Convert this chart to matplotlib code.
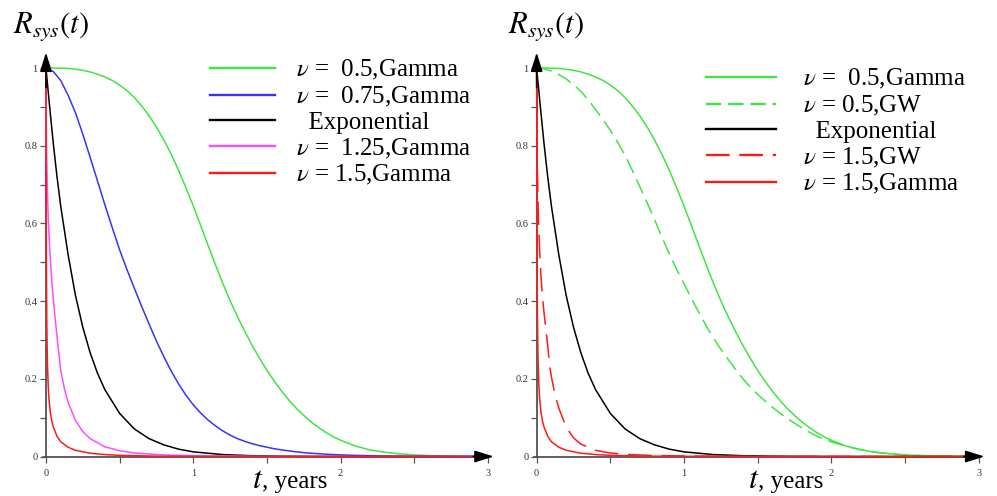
import matplotlib

matplotlib.use("Agg")
import matplotlib.pyplot as plt

plt.rcParams["font.family"] = "serif"
plt.rcParams["font.serif"] = ["Liberation Serif", "DejaVu Serif"]
plt.rcParams["mathtext.fontset"] = "stix"
plt.rcParams["lines.scale_dashes"] = False

# values
t_grid = [0.0, 0.05, 0.1, 0.15, 0.2, 0.25, 0.3, 0.35, 0.4, 0.45, 0.5,
          0.55, 0.6, 0.65, 0.7, 0.75, 0.8, 0.85, 0.9, 0.95, 1.0,
          1.05, 1.1, 1.15, 1.2, 1.25, 1.3, 1.35, 1.4, 1.45, 1.5,
          1.55, 1.6, 1.65, 1.7, 1.75, 1.8, 1.85, 1.9, 1.95, 2.0,
          2.1, 2.2, 2.3, 2.4, 2.5, 2.6, 2.7, 2.8, 2.9, 3.0]

gamma_05 = [1.0, 1.0, 0.9996, 0.999, 0.997, 0.994, 0.99, 0.984, 0.977, 0.968, 0.956,
            0.942, 0.924, 0.902, 0.877, 0.848, 0.815, 0.778, 0.737, 0.692, 0.645,
            0.595, 0.544, 0.494, 0.446, 0.401, 0.36, 0.322, 0.286, 0.253, 0.222,
            0.194, 0.168, 0.145, 0.124, 0.106, 0.089, 0.075, 0.062, 0.051, 0.042,
            0.027, 0.017, 0.011, 0.0068, 0.0041, 0.0024, 0.0014, 0.0008, 0.0004, 0.0002]

gamma_075 = [1.0, 0.991, 0.968, 0.93, 0.885, 0.83, 0.77, 0.709, 0.648, 0.589, 0.532,
             0.481, 0.433, 0.386, 0.341, 0.297, 0.257, 0.22, 0.187, 0.158, 0.133,
             0.112, 0.094, 0.079, 0.066, 0.055, 0.046, 0.039, 0.033, 0.028, 0.024,
             0.02, 0.017, 0.0145, 0.012, 0.01, 0.0085, 0.0072, 0.006, 0.005, 0.0042,
             0.003, 0.002, 0.0014, 0.001, 0.0007, 0.0005, 0.00035, 0.00025, 0.00017, 0.00012]

gw_05 = [1.0, 0.998, 0.992, 0.983, 0.972, 0.957, 0.94, 0.918, 0.893, 0.867, 0.84,
         0.809, 0.775, 0.736, 0.695, 0.653, 0.61, 0.565, 0.522, 0.482, 0.445,
         0.407, 0.372, 0.337, 0.305, 0.276, 0.25, 0.224, 0.2, 0.179, 0.16,
         0.143, 0.127, 0.112, 0.098, 0.086, 0.074, 0.063, 0.053, 0.045, 0.038,
         0.026, 0.018, 0.011, 0.007, 0.0043, 0.0026, 0.0016, 0.0009, 0.0005, 0.0003]

t_exp = [0.0, 0.025, 0.05, 0.075, 0.1, 0.15, 0.2, 0.25, 0.3, 0.35, 0.4, 0.5, 0.6,
         0.7, 0.8, 0.9, 1.0, 1.2, 1.4, 1.6, 1.8, 2.0, 2.5, 3.0]
expo = [1.0, 0.9, 0.805, 0.72, 0.645, 0.52, 0.415, 0.333, 0.267, 0.214, 0.172, 0.111, 0.071,
        0.046, 0.03, 0.019, 0.012, 0.005, 0.002, 0.0009, 0.0004, 0.00015, 0.00002, 0.0]

t_125 = [0.0, 0.002, 0.005, 0.01, 0.015, 0.02, 0.03, 0.04, 0.05, 0.06, 0.08, 0.1, 0.125,
         0.15, 0.2, 0.25, 0.3, 0.4, 0.5, 0.6, 0.8, 1.0, 1.5, 2.0, 3.0]
gamma_125 = [1.0, 0.86, 0.77, 0.68, 0.62, 0.575, 0.505, 0.45, 0.405, 0.365, 0.29, 0.222, 0.175,
             0.14, 0.093, 0.064, 0.046, 0.025, 0.015, 0.009, 0.004, 0.002, 0.0004, 0.0001, 0.0]

t_15 = [0.0, 0.001, 0.002, 0.004, 0.006, 0.008, 0.01, 0.015, 0.02, 0.03, 0.04, 0.05,
        0.075, 0.1, 0.15, 0.2, 0.3, 0.4, 0.5, 0.75, 1.0, 1.5, 2.0, 3.0]
gamma_15 = [1.0, 0.7, 0.58, 0.43, 0.34, 0.28, 0.24, 0.185, 0.15, 0.112, 0.09, 0.076,
            0.052, 0.038, 0.024, 0.016, 0.0085, 0.005, 0.003, 0.001, 0.0005, 0.0001, 0.00003, 0.0]

t_gw15 = [0.0, 0.002, 0.005, 0.01, 0.015, 0.02, 0.03, 0.04, 0.05, 0.06, 0.075, 0.09, 0.1,
          0.125, 0.15, 0.2, 0.25, 0.3, 0.4, 0.5, 0.6, 0.8, 1.0, 1.5, 2.0, 3.0]
gw_15 = [1.0, 0.85, 0.74, 0.64, 0.58, 0.53, 0.46, 0.41, 0.37, 0.335, 0.285, 0.228, 0.205,
         0.158, 0.125, 0.076, 0.048, 0.032, 0.016, 0.009, 0.0055, 0.0025, 0.0013, 0.0003, 0.0001, 0.0]

labels_left = [r"$\nu$ =  0.5,Gamma", r"$\nu$ =  0.75,Gamma", "  Exponential",
               r"$\nu$ =  1.25,Gamma", r"$\nu$ = 1.5,Gamma"]
labels_right = [r"$\nu$ =  0.5,Gamma", r"$\nu$ = 0.5,GW", "  Exponential",
                r"$\nu$ = 1.5,GW", r"$\nu$ = 1.5,Gamma"]

GREEN = "#3fe63f"
BLUE = "#3535f5"
MAGENTA = "#ff4cff"
RED = "#ff1a1a"
LW = 1.1


def style_axes(ax):
    ax.set_xlim(-0.05, 3.1)
    ax.set_ylim(-0.03, 1.1)
    ax.patch.set_alpha(0)
    for side in ("top", "right"):
        ax.spines[side].set_visible(False)
    ax.spines["left"].set_position(("data", 0))
    ax.spines["bottom"].set_position(("data", 0))
    ax.spines["left"].set_bounds(0, 1.0)
    ax.spines["bottom"].set_bounds(-0.02, 3.0)
    for side in ("left", "bottom"):
        ax.spines[side].set_color("#444444")
        ax.spines[side].set_linewidth(1.2)
        ax.spines[side].set_zorder(1)
    ax.set_xticks([0, 1, 2, 3])
    ax.set_xticks([0.5, 1.5, 2.5], minor=True)
    ax.set_yticks([0, 0.2, 0.4, 0.6, 0.8, 1.0])
    ax.set_yticklabels(["0", "0.2", "0.4", "0.6", "0.8", "1"])
    ax.set_yticks([0.1, 0.3, 0.5, 0.7, 0.9], minor=True)
    ax.tick_params(which="both", direction="out", length=4, width=0.9,
                   color="#555555", labelsize=7.5, labelcolor="#333333")
    ax.tick_params(axis="x", pad=5)
    ax.tick_params(axis="y", pad=2)
    arrow = dict(arrowstyle="-|>,head_length=1.15,head_width=0.36",
                 color="black", lw=1.2, shrinkA=0, shrinkB=0)
    ax.annotate("", xy=(0, 1.04), xytext=(0, 0.95), arrowprops=arrow,
                annotation_clip=False)
    ax.annotate("", xy=(3.04, 0), xytext=(2.9, 0), arrowprops=arrow,
                annotation_clip=False)


def place_legend(ax, x_px, top_px, handlelength, handletextpad):
    leg = ax.legend(loc="upper left", bbox_to_anchor=(x_px / 997, 1 - top_px / 496),
                    bbox_transform=fig.transFigure, frameon=False, borderpad=0,
                    borderaxespad=0, fontsize=18, handlelength=handlelength,
                    handletextpad=handletextpad, labelspacing=0.105)
    for line in leg.get_lines():
        line.set_linewidth(1.7)
    return leg


fig = plt.figure(figsize=(9.97, 4.96), dpi=100)
ax1 = fig.add_axes([0.03872, 0.0561, 0.4654, 0.8851])
ax2 = fig.add_axes([0.5309, 0.0561, 0.4654, 0.8851])

# left panel
ax1.plot(t_grid, gamma_05, color=GREEN, lw=LW, label=labels_left[0], zorder=3)
ax1.plot(t_grid, gamma_075, color=BLUE, lw=LW, label=labels_left[1], zorder=3)
ax1.plot(t_exp, expo, color="black", lw=LW, label=labels_left[2], zorder=3)
ax1.plot(t_125, gamma_125, color=MAGENTA, lw=LW, label=labels_left[3], zorder=3)
ax1.plot(t_15, gamma_15, color=RED, lw=LW, label=labels_left[4], zorder=3)
style_axes(ax1)
place_legend(ax1, 210, 58, 2.6, 0.85)

# right panel
ax2.plot(t_grid, gamma_05, color=GREEN, lw=LW, label=labels_right[0], zorder=3)
ax2.plot(t_grid, gw_05, color=GREEN, lw=LW, ls=(0, (11, 5)), label=labels_right[1], zorder=3)
ax2.plot(t_exp, expo, color="black", lw=LW, label=labels_right[2], zorder=3)
ax2.plot(t_gw15, gw_15, color=RED, lw=LW, ls=(0, (17, 7)), label=labels_right[3], zorder=3)
ax2.plot(t_15, gamma_15, color=RED, lw=LW, label=labels_right[4], zorder=3)
style_axes(ax2)
place_legend(ax2, 706, 67, 2.8, 1.08)

for x0 in (13, 508):
    fig.text(x0 / 997, 1 - 33 / 496, r"$R_{sys}(t)$", fontsize=22, va="baseline", ha="left")

for x0 in (252, 748):
    fig.text(x0 / 997, 1 - 488 / 496, r"$t$", fontsize=23, va="baseline", ha="left")
    fig.text((x0 + 10) / 997, 1 - 488 / 496, ", years", fontsize=18, va="baseline", ha="left")

fig.savefig("out.png", dpi=100)
